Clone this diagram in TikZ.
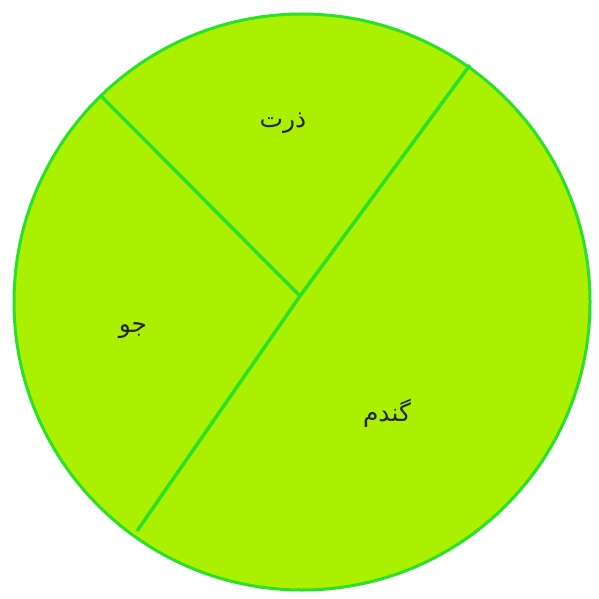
\documentclass[tikz,border=0pt]{standalone}
\usepackage{fontspec}
\newfontfamily\arabicfont[Script=Arabic]{DejaVu Sans}
\TeXXeTstate=1
\definecolor{fillgreen}{RGB}{170,240,0}
\definecolor{edgegreen}{RGB}{40,225,40}
\begin{document}
\begin{tikzpicture}[x=1bp,y=-1bp,
  divider/.style={draw=edgegreen,line width=3.5bp},
  label/.style={font=\arabicfont\fontsize{25}{30}\selectfont,text=black!85,inner sep=0pt}]
\useasboundingbox (0,0) rectangle (599,599);
\coordinate (c) at (302,302);
\fill[fillgreen] (c) circle[radius=288];
\coordinate (m) at (300,296);
\coordinate (tr) at (470,65);
\coordinate (bl) at (137,531);
\coordinate (tl) at (101,96);
\draw[divider] (tr) -- (m) -- (bl);
\draw[divider] (tl) -- (m);
\draw[draw=edgegreen,line width=3bp] (c) circle[radius=288];
\node[label] (corn) at (283,123) {\beginR ذرت\endR};
\node[label] (barley) at (133,331) {\beginR جو\endR};
\node[label] (wheat) at (387,413) {\beginR گندم\endR};
\end{tikzpicture}
\end{document}
